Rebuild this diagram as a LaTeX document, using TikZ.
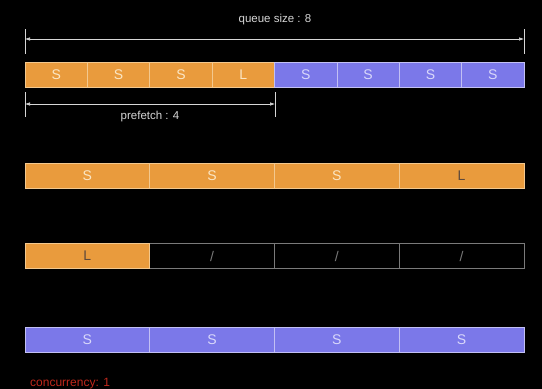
\documentclass[tikz,border=0pt]{standalone}
\usepackage{fontspec}
\setmainfont{Liberation Sans}
\usetikzlibrary{arrows.meta}
\definecolor{org}{HTML}{E99B3D}
\definecolor{orgline}{HTML}{F3C88E}
\definecolor{orgtxt}{HTML}{FBE6C4}
\definecolor{pur}{HTML}{7B78E9}
\definecolor{purline}{HTML}{C2C0F4}
\definecolor{purtxt}{HTML}{D9D8FA}
\definecolor{dark}{HTML}{5E4A3C}
\definecolor{lbl}{HTML}{D6D6D6}
\definecolor{emptyline}{HTML}{7A7A7A}
\definecolor{concred}{HTML}{C0281C}
\tikzset{
  cellbase/.style={minimum height=25pt, inner sep=0pt, line width=0.6pt, font=\fontsize{14}{14}\selectfont},
  ocell/.style={cellbase, fill=org, draw=orgline, text=orgtxt},
  lcell/.style={cellbase, fill=org, draw=orgline, text=dark},
  pcell/.style={cellbase, fill=pur, draw=purline, text=purtxt},
  ecell/.style={cellbase, fill=black, draw=emptyline, text=emptyline},
  narrow/.style={minimum width=62.375pt},
  wide/.style={minimum width=124.75pt},
  dim/.style={draw=lbl, line width=0.6pt, {Latex[length=5pt,width=3.5pt]}-{Latex[length=5pt,width=3.5pt]}},
  tick/.style={draw=lbl, line width=0.6pt},
  lab/.style={text=lbl, font=\fontsize{11.5}{11.5}\selectfont, inner sep=0pt}
}
\begin{document}
\begin{tikzpicture}[x=1pt,y=-1pt]
\fill[black] (0,0) rectangle (542,389);
\useasboundingbox (0,0) rectangle (542,389);
% row 1
\foreach \i/\t/\s in {0/S/ocell,1/S/ocell,2/S/ocell,3/L/ocell,4/S/pcell,5/S/pcell,6/S/pcell,7/S/pcell}{
  \node[\s, narrow] (r1c\i) at ({25+62.375*(\i+0.5)},75) {\t};
}
% queue size dimension
\coordinate (qt1a) at (25,29); \coordinate (qt1b) at (25,54);
\coordinate (qt2a) at (524,29); \coordinate (qt2b) at (524,54);
\draw[tick] (qt1a) -- (qt1b);
\draw[tick] (qt2a) -- (qt2b);
\coordinate (qa) at (25,39); \coordinate (qb) at (524,39);
\draw[dim] (qa) -- (qb);
\node[lab] (qlab) at (275,20) {queue size : 8};
% prefetch dimension
\coordinate (pt1a) at (25,92); \coordinate (pt1b) at (25,117);
\coordinate (pt2a) at (275,92); \coordinate (pt2b) at (275,117);
\draw[tick] (pt1a) -- (pt1b);
\draw[tick] (pt2a) -- (pt2b);
\coordinate (pa) at (25,104); \coordinate (pb) at (275,104);
\draw[dim] (pa) -- (pb);
\node[lab] (plab) at (150,117) {prefetch : 4};
% row 2
\foreach \i/\t/\s in {0/S/ocell,1/S/ocell,2/S/ocell,3/L/lcell}{
  \node[\s, wide] (r2c\i) at ({25+124.75*(\i+0.5)},175.5) {\t};
}
% row 3
\foreach \i/\t/\s in {1/\slash/ecell,2/\slash/ecell,3/\slash/ecell,0/L/lcell}{
  \node[\s, wide] (r3c\i) at ({25+124.75*(\i+0.5)},256) {\t};
}
% row 4
\foreach \i/\t/\s in {0/S/pcell,1/S/pcell,2/S/pcell,3/S/pcell}{
  \node[\s, wide] (r4c\i) at ({25+124.75*(\i+0.5)},339.5) {\t};
}
\node[text=concred, font=\fontsize{12}{12}\selectfont, anchor=west, inner sep=0pt] (conc) at (30,384) {concurrency: 1};
\end{tikzpicture}
\end{document}
